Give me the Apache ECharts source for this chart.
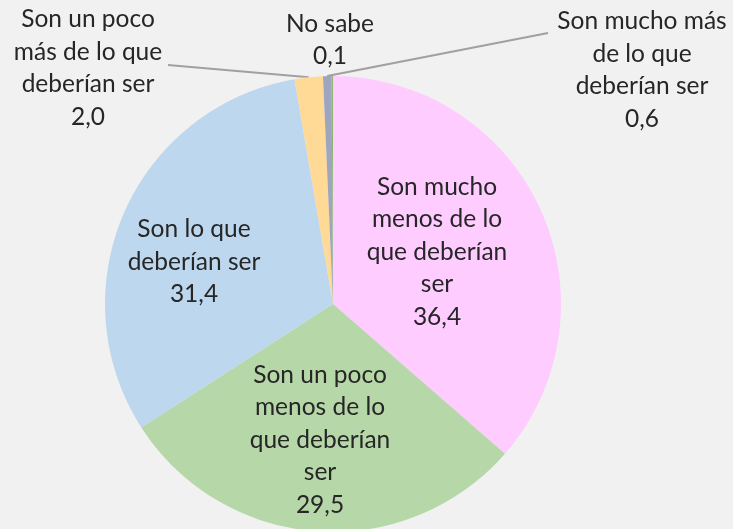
<!DOCTYPE html>
<html>
<head>
<meta charset="utf-8">
<script src="https://cdn.jsdelivr.net/npm/echarts@6/dist/echarts.min.js"></script>
<style>
  html, body { margin: 0; padding: 0; background: #f1f1f1; }
  #chart { width: 733px; height: 529px; }
</style>
</head>
<body>
<div id="chart"></div>
<script>
// Opinion categories, in drawing order (clockwise from 12 o'clock)
const categories = [
  'Son mucho menos de lo que deberían ser',
  'Son un poco menos de lo que deberían ser',
  'Son lo que deberían ser',
  'Son un poco más de lo que deberían ser',
  'Son mucho más de lo que deberían ser',
  'No sabe'
];
// Label text as it wraps on the chart
const labelLines = [
  'Son mucho\nmenos de lo\nque deberían\nser',
  'Son un poco\nmenos de lo\nque deberían\nser',
  'Son lo que\ndeberían ser',
  'Son un poco\nmás de lo que\ndeberían ser',
  'Son mucho más\nde lo que\ndeberían ser',
  'No sabe'
];
// Percentages
const values = [36.4, 29.5, 31.4, 2.0, 0.6, 0.1];
const sliceColors = ['#ffccff', '#b6d7a8', '#bdd7ee', '#ffd996', '#9ea5bf', '#8fb56c'];
// Which labels sit outside the pie, and which of those get a leader line
const outsideLabel = [false, false, false, true, true, true];
const showLeader = [false, false, false, true, true, false];
// Label anchor points (centre of each text block)
const labelAnchors = [[437, 252], [320, 440], [194, 262], [88, 68], [642, 70], [330, 40]];
// Where each leader line meets its label
const leaderEnds = [null, null, null, [168, 65], [548, 33], null];

const fmt = v => v.toFixed(1).replace('.', ',');

const CENTER = [333, 304];
const RADIUS = 228;

const chart = echarts.init(document.getElementById('chart'), null, { renderer: 'canvas' });

// Point on the rim at the middle of a slice, from the cumulative shares
const total = values.reduce((a, b) => a + b, 0);
function rimPoint(idx) {
  let before = 0;
  for (let i = 0; i < idx; i++) before += values[i];
  const mid = (before + values[idx] / 2) / total * Math.PI * 2;
  return [CENTER[0] + RADIUS * Math.sin(mid), CENTER[1] - RADIUS * Math.cos(mid)];
}

const data = categories.map((name, i) => ({
  name,
  value: values[i],
  itemStyle: { color: sliceColors[i] },
  label: { position: outsideLabel[i] ? 'outside' : 'inside' },
  labelLine: { show: showLeader[i] }
}));

chart.setOption({
  backgroundColor: '#f1f1f1',
  animation: false,
  series: [{
    type: 'pie',
    center: CENTER,
    radius: RADIUS,
    startAngle: 90,
    clockwise: true,
    avoidLabelOverlap: false,
    data,
    itemStyle: { borderWidth: 0 },
    label: {
      show: true,
      formatter: p => labelLines[p.dataIndex] + '\n' + fmt(p.value),
      fontFamily: 'Lato',
      fontSize: 24.5,
      lineHeight: 32.5,
      color: '#262626',
      align: 'center'
    },
    labelLine: {
      show: true,
      length: 10,
      length2: 10,
      smooth: false,
      lineStyle: { color: '#a0a0a0', width: 2 }
    },
    labelLayout: function (params) {
      const i = params.dataIndex;
      const a = labelAnchors[i];
      const out = { x: a[0], y: a[1], align: 'center', verticalAlign: 'middle' };
      if (leaderEnds[i]) {
        out.labelLinePoints = [rimPoint(i), leaderEnds[i], leaderEnds[i]];
      }
      return out;
    }
  }]
});
</script>
</body>
</html>
